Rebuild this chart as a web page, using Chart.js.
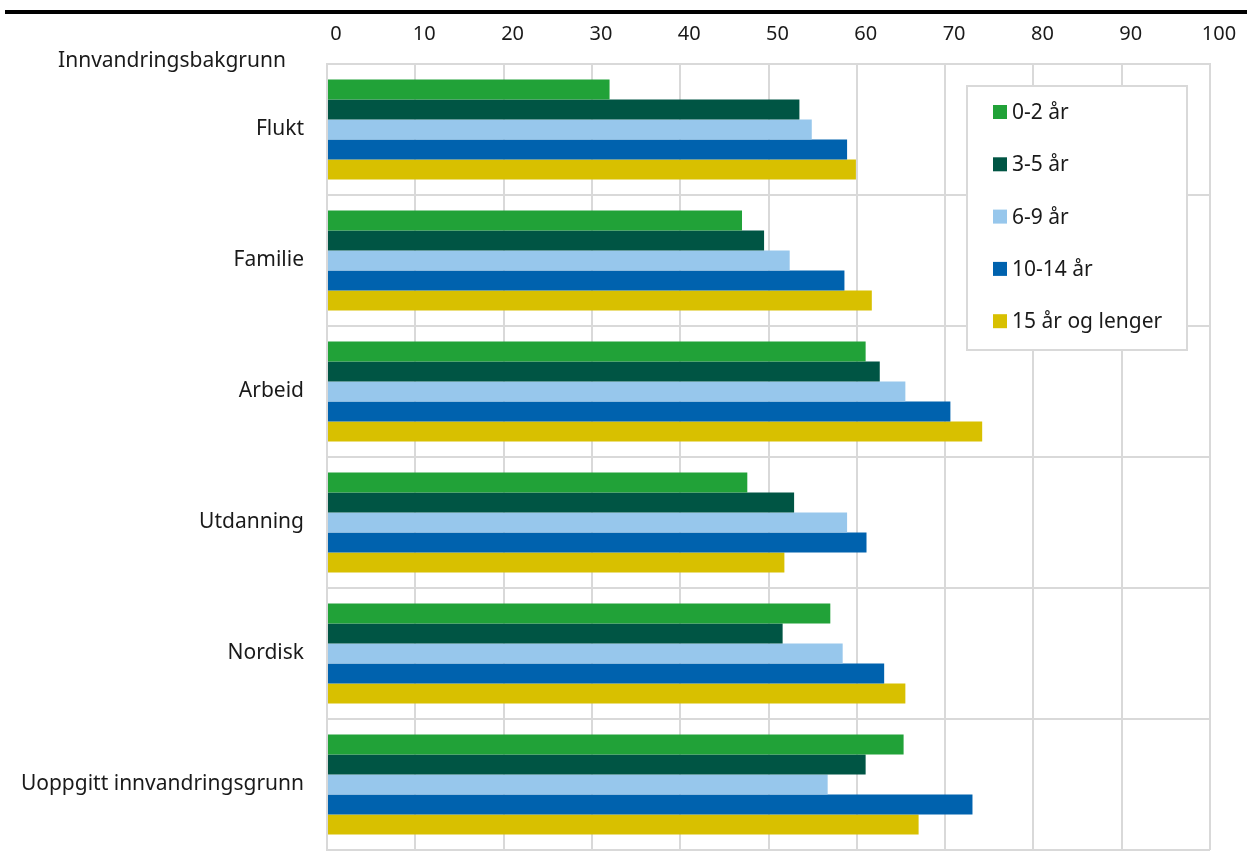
<!DOCTYPE html>
<html>
<head>
<meta charset="utf-8">
<script src="https://cdn.jsdelivr.net/npm/chart.js@4"></script>
<style>
  html, body { margin: 0; padding: 0; background: #fff; overflow: hidden; }
  #wrap { position: relative; width: 1247px; height: 860px; }
  #rule { position: absolute; left: 5px; right: 0; top: 10px; height: 4px; background: #000; }
  canvas { position: absolute; left: 0; top: 0; }
</style>
</head>
<body>
<div id="wrap">
  <canvas id="chart" width="1247" height="860"></canvas>
  <div id="rule"></div>
</div>
<script>
// categories and series
const categories = ['Flukt', 'Familie', 'Arbeid', 'Utdanning', 'Nordisk', 'Uoppgitt innvandringsgrunn'];
const seriesNames = ['0-2 år', '3-5 år', '6-9 år', '10-14 år', '15 år og lenger'];
const seriesColors = ['#21a238', '#005544', '#97c7ec', '#0062ae', '#d8c000'];

const botid0to2 = [32.0, 47.0, 61.0, 47.6, 57.0, 65.3];
const botid3to5 = [53.5, 49.5, 62.6, 52.9, 51.6, 61.0];
const botid6to9 = [54.9, 52.4, 65.5, 58.9, 58.4, 56.7];
const botid10to14 = [58.9, 58.6, 70.6, 61.1, 63.1, 73.1];
const botid15plus = [59.9, 61.7, 74.2, 51.8, 65.5, 67.0];

const axisTitle = 'Innvandringsbakgrunn';
const FONT = '"Noto Sans", "Open Sans", sans-serif';

const seriesValues = [botid0to2, botid3to5, botid6to9, botid10to14, botid15plus];

// legend box drawn inside the plot, like the original
const boxLegend = {
  id: 'boxLegend',
  afterDraw(chart) {
    const ctx = chart.ctx;
    const x = 967, y = 86, w = 220, h = 264;
    ctx.save();
    ctx.fillStyle = '#fff';
    ctx.fillRect(x, y, w, h);
    ctx.strokeStyle = '#d9d9d9';
    ctx.lineWidth = 2;
    ctx.strokeRect(x, y, w, h);
    ctx.font = '21px ' + FONT;
    ctx.textBaseline = 'middle';
    ctx.textAlign = 'left';
    chart.data.datasets.forEach((ds, i) => {
      const cy = 112 + i * 52.3;
      ctx.fillStyle = ds.backgroundColor;
      ctx.fillRect(993, cy - 7, 14, 14);
      ctx.fillStyle = '#1a1a1a';
      ctx.fillText(ds.label, 1012, cy + 1);
    });
    // axis title above the category labels
    ctx.textAlign = 'center';
    ctx.fillText(axisTitle, 172, 61);
    ctx.restore();
  }
};

new Chart(document.getElementById('chart'), {
  type: 'bar',
  data: {
    labels: categories,
    datasets: seriesNames.map((name, i) => ({
      label: name,
      data: seriesValues[i],
      backgroundColor: seriesColors[i],
      borderWidth: 0,
      categoryPercentage: 0.763,
      barPercentage: 1
    }))
  },
  options: {
    indexAxis: 'y',
    responsive: false,
    animation: false,
    layout: { padding: { top: 0, right: 37, bottom: 10, left: 0 } },
    plugins: {
      legend: { display: false },
      tooltip: { enabled: false }
    },
    scales: {
      x: {
        position: 'top',
        min: 0,
        max: 100,
        ticks: {
          stepSize: 10,
          color: '#1a1a1a',
          font: { family: FONT, size: 20 },
          padding: 18,
          labelOffset: 9
        },
        grid: { color: '#d9d9d9', lineWidth: 2, drawTicks: false },
        border: { color: '#d9d9d9', width: 2 },
        afterFit(scale) { scale.height = 64; }
      },
      y: {
        ticks: {
          color: '#1a1a1a',
          font: { family: FONT, size: 21 },
          padding: 23
        },
        grid: { color: '#d9d9d9', lineWidth: 2, drawTicks: false, offset: true },
        border: { color: '#d9d9d9', width: 2 },
        afterFit(scale) {
          scale.width = 327;
          scale.paddingTop = 0;
          scale.paddingBottom = 0;
        }
      }
    }
  },
  plugins: [boxLegend]
});
</script>
</body>
</html>
